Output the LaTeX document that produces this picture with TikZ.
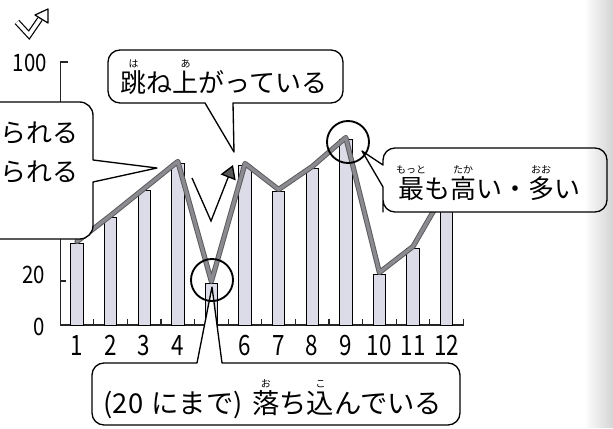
\documentclass[tikz,border=0pt]{standalone}
\usepackage{fontspec}
\newfontfamily\jp{Noto Sans CJK JP}
\usetikzlibrary{arrows.meta}
\definecolor{barfill}{RGB}{220,220,233}
\definecolor{ribbon}{RGB}{138,138,144}
\newcommand{\rb}[2]{\ooalign{#1\cr\hidewidth\raisebox{0.95em}{\fontsize{7.5pt}{7.5pt}\selectfont #2}\hidewidth\cr}}
\begin{document}
\begin{tikzpicture}[x=0.75pt,y=-0.75pt,
  callout/.style={draw=black, line width=1pt, fill=white, line join=round},
  big/.style={font=\jp\fontsize{19.5pt}{23pt}\selectfont, inner sep=0pt},
  bigger/.style={font=\jp\fontsize{20.5pt}{24pt}\selectfont, inner sep=0pt},
  numlab/.style={font=\jp\fontsize{21pt}{21pt}\selectfont, inner sep=0pt, anchor=base},
  ylab/.style={font=\jp\fontsize{18pt}{18pt}\selectfont, inner sep=0pt, anchor=base east},
  barbox/.style={draw=black, line width=0.75pt, fill=barfill},
  axisline/.style={line width=0.9pt, black!85},
  ring/.style={draw=black, line width=1.4pt},
  ribbonout/.style={line width=3.9pt, black!65, line join=round, line cap=round},
  ribbonin/.style={line width=2.5pt, ribbon, line join=round, line cap=round},
]
\useasboundingbox (0,0) rectangle (613,428);
\fill[white] (0,0) rectangle (613,428);

% icon
\coordinate (i1) at (17,22);
\coordinate (i2) at (29,35);
\coordinate (i3) at (40,19);
\draw[line width=0.9pt, double=white, double distance=2.8pt, line join=miter] (i1) -- (i2) -- (i3);
\draw[fill=white, line width=0.9pt, line join=round] (35,15) -- (48,9) -- (48,23) -- cycle;

% axes
\coordinate (ytop) at (60.2,62);
\coordinate (org) at (60.2,325);
\coordinate (xend) at (463.4,325);
\draw[axisline] (67.5,62) -- (ytop) -- (org) -- (xend) -- (463.4,318.5);
\draw[axisline] (60.2,281) -- (66,281);
\foreach \i in {1,...,11} \draw[axisline] ({77+33.6*\i-16.8},325) -- ++(0,-6);

% bars
\foreach \i/\t in {1/243,2/217,3/190,4/163,5/283,6/165,7/191,8/168,9/139,10/274,11/248,12/190}{
  \draw[barbox] ({77+33.6*(\i-1)-6.2},325) rectangle ({77+33.6*(\i-1)+6.2},\t);
  \coordinate (p\i) at ({77+33.6*(\i-1)},{\t-1.5});
}
\draw[ribbonout] (p1) -- (p2) -- (p3) -- (p4) -- (p5) -- (p6) -- (p7) -- (p8) -- (p9) -- (p10) -- (p11) -- (p12);
\draw[ribbonin] (p1) -- (p2) -- (p3) -- (p4) -- (p5) -- (p6) -- (p7) -- (p8) -- (p9) -- (p10) -- (p11) -- (p12);

% axis labels
\node[ylab] (y100) at (47,71) {\scalebox{0.85}[1]{100}};
\node[ylab] (y20) at (45,283) {\scalebox{0.85}[1]{20}};
\node[ylab] (y0) at (45,335) {\scalebox{0.85}[1]{0}};
\foreach \i in {1,2,3,4,6,7,8,9,10,11,12}
  \node[numlab] (x\i) at ({77+33.6*(\i-1)},355) {\scalebox{0.8}[1]{\i}};

% V arrow
\coordinate (v1) at (192,178);
\coordinate (v2) at (211,221);
\coordinate (v3) at (233,165);
\draw[line width=1pt, -{Triangle[length=10pt,width=12pt,fill=black!65]}] (v1) -- (v2) -- (v3);

% top callout
\coordinate (tA) at (234,152);
\draw[callout] (205,103) -- (tA) -- (233,103) -- (280,103) [rounded corners=9pt] -- (343,103) -- (343,50) -- (108,50) -- (108,103) -- (150,103) [sharp corners] -- cycle;
\node[big, anchor=base] (ta) at (224,92) {\rb{跳}{は}ね\rb{上}{あ}がっている};

% left callout
\coordinate (tL) at (157,168);
\draw[callout] (93,182) -- (tL) -- (93,160) -- (93,140) [rounded corners=10pt] -- (93,102) -- (-30,102) -- (-30,239) -- (93,239) -- (93,210) [sharp corners] -- cycle;
\node[big, anchor=east] (l1) at (79,133) {られる};
\node[big, anchor=east] (l2) at (79,172) {られる};

% right callout
\coordinate (tR) at (362,151);
\draw[callout] (383,187) -- (tR) -- (383,165) -- (383,162) [rounded corners=9pt] -- (383,148) -- (607,148) -- (607,212) -- (383,212) -- (383,200) [sharp corners] -- cycle;
\node[big, anchor=base] (rt) at (489,198) {\rb{最}{もっと}も\rb{高}{たか}い・\rb{多}{おお}い};

% bottom callout
\coordinate (tB) at (212,287);
\draw[callout] (222,363) -- (tB) -- (197,363) -- (170,363) [rounded corners=9pt] -- (92,363) -- (92,425) -- (460,425) -- (460,363) -- (250,363) [sharp corners] -- cycle;
\node[bigger, anchor=base] (bt) at (273,413) {(20\hspace{0.3em}にまで)\hspace{0.35em}\rb{落}{お}ち\rb{込}{こ}んでいる};

% rings
\draw[ring] (212,280) circle[radius=21];
\draw[ring] (348,142) circle[radius=21];

% page gutter shading
\foreach \k in {0,...,19}
  \fill[black, opacity={0.0085*\k}] ({583+1.5*\k},0) rectangle ({584.6+1.5*\k},428);
\fill[black, opacity=0.17] (613,0) rectangle (612.5,428);
\end{tikzpicture}
\end{document}
